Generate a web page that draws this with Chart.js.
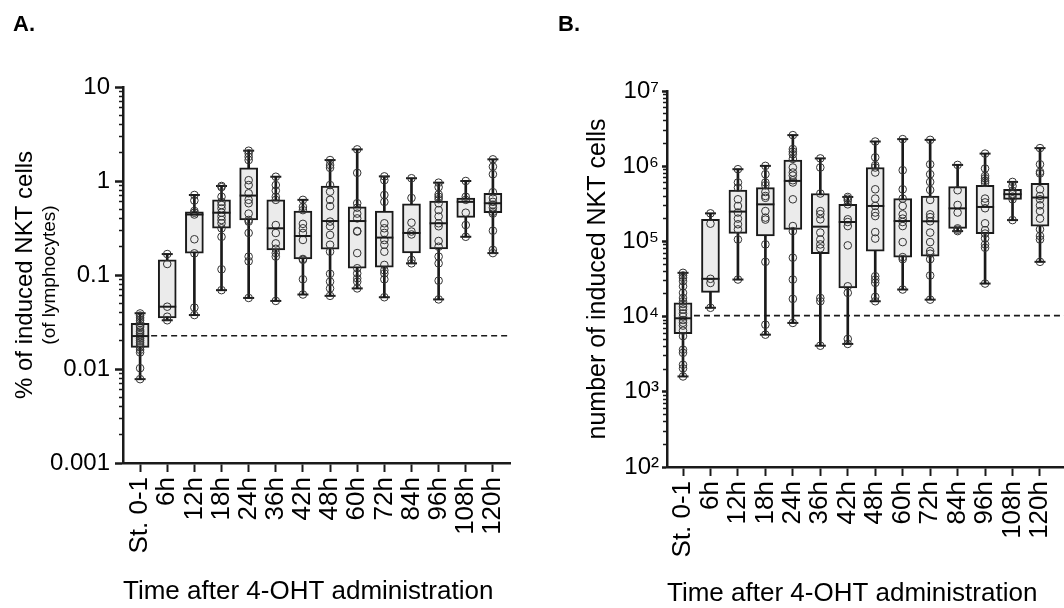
<!DOCTYPE html>
<html><head><meta charset="utf-8">
<script src="https://cdn.jsdelivr.net/npm/chart.js@4/dist/chart.umd.min.js"></script>
<style>
body{margin:0;background:#fff;width:1064px;height:608px;overflow:hidden;position:relative}
.p{position:absolute;top:0;height:608px;width:532px;overflow:hidden}
#wa{left:0}#wb{left:532px}
</style></head><body>
<div class="p" id="wa"><canvas id="ca" width="532" height="608"></canvas></div>
<div class="p" id="wb"><canvas id="cb" width="570" height="608"></canvas></div>
<script>
const categories = ['St. 0-1','6h','12h','18h','24h','36h','42h','48h','60h','72h','84h','96h','108h','120h'];

// Panel A: % of induced NKT cells (of lymphocytes)
const pctMin    = [0.0078,0.033,0.0375,0.069,0.057,0.053,0.062,0.060,0.072,0.058,0.133,0.055,0.255,0.171];
const pctQ1     = [0.0170,0.035,0.171,0.314,0.385,0.185,0.148,0.188,0.118,0.121,0.172,0.19,0.41,0.46];
const pctMedian = [0.0224,0.046,0.44,0.46,0.70,0.314,0.26,0.375,0.375,0.25,0.28,0.355,0.60,0.58];
const pctQ3     = [0.0306,0.145,0.47,0.63,1.38,0.63,0.48,0.885,0.53,0.48,0.57,0.61,0.66,0.74];
const pctMax    = [0.0392,0.167,0.71,0.885,2.10,1.11,0.63,1.67,2.17,1.12,1.07,0.96,1.0,1.70];
const pctPoints = [
  [0.039,0.037,0.035,0.033,0.031,0.029,0.028,0.026,0.025,0.024,0.023,0.022,0.021,0.020,0.019,0.018,0.017,0.016,0.015,0.0102,0.0078],
  [0.167,0.131,0.046,0.036,0.033],
  [0.71,0.62,0.48,0.46,0.44,0.24,0.17,0.045,0.0375],
  [0.885,0.86,0.68,0.60,0.555,0.51,0.46,0.42,0.385,0.355,0.314,0.255,0.115,0.069],
  [2.10,1.97,1.81,1.67,1.02,0.905,0.74,0.63,0.58,0.45,0.385,0.37,0.28,0.157,0.14,0.057],
  [1.11,0.905,0.79,0.68,0.63,0.34,0.28,0.217,0.19,0.171,0.157,0.053],
  [0.63,0.53,0.49,0.35,0.314,0.28,0.236,0.148,0.145,0.09,0.062],
  [1.67,1.48,1.38,0.905,0.77,0.63,0.54,0.37,0.33,0.267,0.21,0.177,0.103,0.085,0.072,0.060],
  [2.17,1.22,0.58,0.52,0.45,0.40,0.294,0.29,0.171,0.118,0.104,0.092,0.085,0.072],
  [1.12,1.02,0.71,0.60,0.355,0.314,0.28,0.236,0.21,0.177,0.128,0.112,0.104,0.09,0.058],
  [1.07,0.66,0.36,0.29,0.27,0.145,0.133],
  [0.96,0.86,0.72,0.68,0.64,0.58,0.49,0.42,0.355,0.33,0.23,0.2,0.157,0.133,0.087,0.055],
  [1.0,0.68,0.63,0.46,0.34,0.255],
  [1.70,1.42,1.18,0.76,0.66,0.60,0.56,0.52,0.47,0.45,0.296,0.185,0.171]
];
const pctThreshold = 0.0226;
const pctTickValues = [0.001,0.01,0.1,1,10];
const pctTickLabels = ['0.001','0.01','0.1','1','10'];

// Panel B: number of induced NKT cells
const numMin    = [1600,13100,31100,5750,8240,4100,4330,16000,22900,16800,137000,27500,192000,53500];
const numQ1     = [5930,21000,128000,118000,144600,68600,24100,74300,61800,63700,149000,127000,363000,160000];
const numMedian = [9500,31800,249000,311000,637000,157000,181000,296000,186500,185000,275000,287000,424000,383000];
const numQ3     = [15200,196500,483000,520000,1210000,433000,311000,961000,371000,402000,536000,558000,493000,593000];
const numMax    = [38200,236000,912000,1010000,2590000,1270000,390000,2130000,2290000,2240000,1040000,1470000,618000,1740000];
const numPoints = [
  [38200,35200,32800,29600,25300,20700,17700,16000,14700,13500,12400,11000,10000,9000,8300,7600,6500,5500,3630,3300,2290,2050,1600],
  [236000,172000,31800,28000,13100],
  [912000,607000,520000,363000,296000,242000,201000,169000,144600,106000,31100],
  [1010000,782000,607000,558000,454000,402000,380000,253000,207000,195000,91200,53500,7800,5750],
  [2590000,1690000,1560000,1440000,1250000,961000,824000,750000,650000,607000,363000,160000,137000,60700,31100,17200,8240],
  [1270000,961000,433000,253000,230000,196500,131000,106000,91200,81000,17700,16000,4100],
  [390000,370000,350000,311000,196500,181000,160000,88500,25300,20700,5050,4330],
  [2130000,1310000,1030000,961000,824000,493000,371000,296000,242000,217000,133000,109000,34400,31100,28100,18300,16000],
  [2290000,885000,493000,371000,296000,229000,201000,181000,160000,97900,61800,58000,22900],
  [2240000,1060000,782000,618000,483000,356000,229000,210000,185000,131000,97900,74300,68600,58000,35200,16800],
  [1040000,479000,305000,242000,149000,143000,137000],
  [1470000,931000,743000,690000,640000,600000,371000,330000,276000,174000,141000,127000,110000,91200,82400,27500],
  [618000,545000,470000,424000,394000,363000,192000],
  [1740000,1060000,840000,800000,493000,402000,363000,302000,253000,201000,145000,118000,106000,53500]
];
const numThreshold = 10300;
const numTickValues = [1e2,1e3,1e4,1e5,1e6,1e7];
const numTickLabels = ['10\u00B2','10\u00B3','10\u2074','10\u2075','10\u2076','10\u2077'];

const FONT = "'Liberation Sans', Arial, Helvetica, sans-serif";
const INK = '#1a1a1a';

function minorTicks(lo, hi) {
  const out = [];
  for (let e = Math.round(Math.log10(lo)); e < Math.round(Math.log10(hi)); e++) {
    for (let k = 2; k <= 9; k++) out.push(k * Math.pow(10, e));
  }
  return out;
}

function boxDatasets(mins, q1s, meds, q3s, maxs, pts, thr, xEnd) {
  const ax = {xAxisID:'x', yAxisID:'y'};
  return [
    Object.assign({type:'line', data:[{x:-0.33,y:thr},{x:xEnd,y:thr}], borderColor:INK, borderWidth:1.6,
     borderDash:[6,4], pointRadius:0, order:7}, ax),
    Object.assign({type:'bar', data:categories.map((c,i)=>({x:i,y:[mins[i],maxs[i]]})), backgroundColor:INK,
     borderWidth:0, barThickness:2, grouped:false, order:6}, ax),
    Object.assign({type:'bar', data:categories.map((c,i)=>({x:i,y:[q1s[i],q3s[i]]})), backgroundColor:'#ebebeb',
     borderColor:INK, borderWidth:2, borderSkipped:false, barThickness:18, grouped:false, order:5}, ax),
    Object.assign({type:'scatter', data:categories.flatMap((c,i)=>[{x:i,y:mins[i]},{x:i,y:maxs[i]}]),
     pointStyle:'line', pointRadius:5.5, pointBorderWidth:2, pointBorderColor:INK, order:4}, ax),
    Object.assign({type:'scatter', data:categories.flatMap((c,i)=>pts[i].map(v=>({x:i,y:v}))),
     pointStyle:'circle', pointRadius:3.8, pointBorderWidth:1, pointBorderColor:'#333',
     pointBackgroundColor:'rgba(0,0,0,0)', order:3}, ax),
    Object.assign({type:'scatter', data:categories.map((c,i)=>({x:i,y:meds[i]})),
     pointStyle:'line', pointRadius:9, pointBorderWidth:2, pointBorderColor:INK, order:2}, ax)
  ];
}

function xAxis(min, max, h, titlePad) {
  return {type:'linear', min, max, position:'bottom', offset:false, bounds:'data',
    afterBuildTicks: s => { s.ticks = categories.map((c,i)=>({value:i})); },
    afterFit: s => { s.height = h; },
    ticks:{callback:v=>categories[v], font:{family:FONT,size:26}, color:'#000',
      minRotation:90, maxRotation:90, autoSkip:false, padding:5},
    grid:{display:true, offset:false, drawOnChartArea:false, drawTicks:true, tickLength:9, tickWidth:2, tickColor:INK},
    border:{display:true, color:INK, width:2.5},
    title:{display:true, align:'start', text:'Time after 4-OHT administration', font:{family:FONT,size:26,lineHeight:1},
      color:'#000', padding:{top:0,bottom:titlePad}}
  };
}

function minorAxis(lo, hi) {
  return {type:'logarithmic', min:lo, max:hi, position:'left', weight:0,
    afterBuildTicks: s => { s.ticks = minorTicks(lo, hi).map(v=>({value:v})); },
    afterFit: s => { s.width = 0; },
    ticks:{display:false},
    grid:{drawOnChartArea:false, drawTicks:true, tickLength:4, tickWidth:1.5, tickColor:INK},
    border:{display:false}
  };
}

const common = {responsive:false, animation:false, events:[]};

// Panel A
new Chart(document.getElementById('ca'), {
  type:'bar',
  data:{datasets:boxDatasets(pctMin,pctQ1,pctMedian,pctQ3,pctMax,pctPoints,pctThreshold,13.63)},
  options:Object.assign({}, common, {
    layout:{padding:{left:13,right:22,top:0,bottom:0}},
    plugins:{legend:{display:false}, tooltip:{enabled:false},
      title:{display:true, text:'A.', align:'start', color:'#000',
        font:{family:FONT,size:22,weight:'bold',lineHeight:1.2}, padding:{top:12,bottom:48.6}}},
    scales:{
      x:xAxis(-0.63, 13.63, 145, 3),
      y:{type:'logarithmic', min:0.001, max:10, position:'left', weight:1,
        afterBuildTicks: s => { s.ticks = pctTickValues.map(v=>({value:v})); },
        afterFit: s => { s.width = 85; },
        ticks:{callback:(v,i)=>pctTickLabels[i], font:{family:FONT,size:24}, color:'#000', padding:5, autoSkip:false},
        grid:{drawOnChartArea:false, drawTicks:true, tickLength:8, tickWidth:2.5, tickColor:INK},
        border:{display:true, color:INK, width:2.5},
        title:{display:true, text:'(of lymphocytes)', color:'#000',
          font:{family:FONT,size:19,lineHeight:1.2}, padding:{top:0,bottom:0}}},
      yMinor:minorAxis(0.001, 10),
      yLab:{type:'linear', position:'left', weight:2, display:true,
        ticks:{display:false}, grid:{display:false}, border:{display:false},
        afterFit: s => { s.width = 25; },
        title:{display:true, text:'% of induced NKT cells', color:'#000',
          font:{family:FONT,size:24,lineHeight:1}, padding:{top:0,bottom:0}}}
    }
  })
});

// Panel B (canvas runs past the page edge, as the original panel is cut there)
new Chart(document.getElementById('cb'), {
  type:'bar',
  data:{datasets:boxDatasets(numMin,numQ1,numMedian,numQ3,numMax,numPoints,numThreshold,13.874)},
  options:Object.assign({}, common, {
    layout:{padding:{left:26,right:38,top:0,bottom:0}},
    plugins:{legend:{display:false}, tooltip:{enabled:false},
      title:{display:true, text:'B.', align:'start', color:'#000',
        font:{family:FONT,size:22,weight:'bold',lineHeight:1.2}, padding:{top:12,bottom:52.6}}},
    scales:{
      x:xAxis(-0.583, 13.874, 141, 1),
      y:{type:'logarithmic', min:100, max:1e7, position:'left', weight:1,
        afterBuildTicks: s => { s.ticks = numTickValues.map(v=>({value:v})); },
        afterFit: s => { s.width = 109; },
        ticks:{callback:(v,i)=>numTickLabels[i], font:{family:FONT,size:24}, color:'#000', padding:3, autoSkip:false},
        grid:{drawOnChartArea:false, drawTicks:true, tickLength:5, tickWidth:2.5, tickColor:INK},
        border:{display:true, color:INK, width:2.5},
        title:{display:true, text:'number of induced NKT cells', color:'#000',
          font:{family:FONT,size:25,lineHeight:1}, padding:{top:28,bottom:0}}},
      yMinor:minorAxis(100, 1e7)
    }
  })
});
</script>
</body></html>
